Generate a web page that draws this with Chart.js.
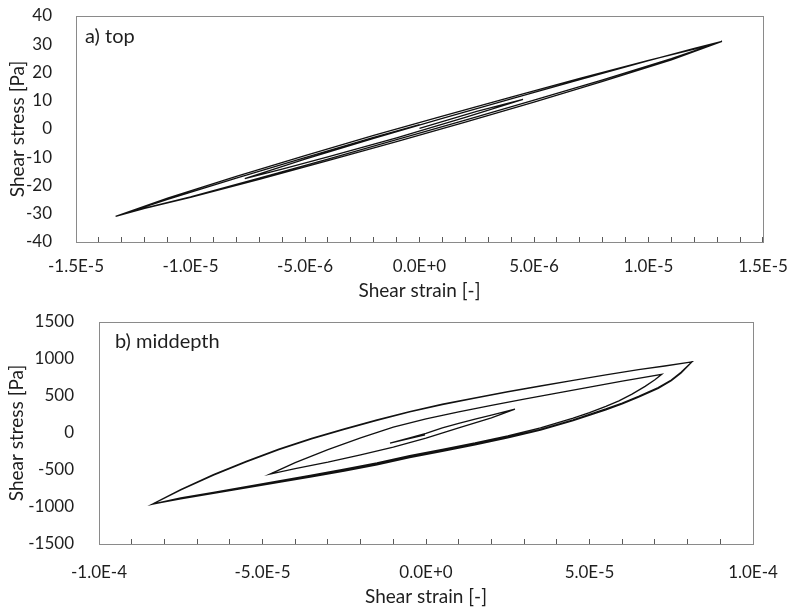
<!DOCTYPE html>
<html>
<head>
<meta charset="utf-8">
<script src="https://cdn.jsdelivr.net/npm/chart.js@4/dist/chart.umd.min.js"></script>
<style>
  body { margin: 0; background: #fff; }
  canvas { display: block; }
</style>
</head>
<body>
<canvas id="topChart" width="789" height="305"></canvas>
<canvas id="midChart" width="789" height="305"></canvas>
<script>
// a) top : one continuous stress-strain path
const topStrain = [
  0, 2.5e-6, 4.52e-6,
  2e-6, -1e-6, -4e-6, -6e-6, -7.63e-6,
  -5e-6, -2e-6, 1e-6, 4e-6, 7e-6, 10e-6, 12e-6, 13.21e-6,
  11e-6, 8e-6, 5e-6, 2e-6, -1e-6, -4e-6, -7e-6, -10e-6, -12e-6, -13.27e-6,
  -11e-6, -8e-6, -5e-6, -2e-6, 1e-6, 4e-6, 7e-6, 10e-6, 12e-6, 13.21e-6,
  11e-6, 8e-6, 5e-6, 2e-6, -1e-6, -4e-6, -7e-6, -10e-6, -12e-6, -13.27e-6,
  -11e-6, -8e-6, -5e-6, -2e-6, 0
];
const topStress = [
  0.2, 6.2, 10.5,
  4.1, -3.1, -9.9, -14.2, -17.6,
  -10.7, -3.3, 3.8, 10.7, 17.5, 24.2, 28.5, 31.0,
  24.5, 16.85, 9.55, 2.4, -4.5, -11.2, -17.8, -24.2, -28.1, -30.9,
  -24.5, -16.75, -9.45, -2.3, 4.6, 11.3, 17.9, 24.3, 28.3, 31.0,
  24.9, 17.4, 10.2, 3.1, -3.8, -10.65, -17.35, -24.0, -28.0, -30.9,
  -24.9, -17.35, -10.1, -3.0, 1.55
];

// b) middepth
const midStrain = [
  -0.3e-6, -11e-6,
  -5e-6, 0, 5e-6, 10e-6, 15e-6, 20e-6, 27.2e-6,
  20e-6, 10e-6, 0, -10e-6, -20e-6, -30e-6, -40e-6, -47.7e-6,
  -40e-6, -30e-6, -20e-6, -10e-6, 0, 10e-6, 20e-6, 30e-6, 40e-6, 50e-6, 60e-6, 72.1e-6,
  70e-6, 67e-6, 63e-6, 59e-6, 55e-6, 50e-6, 45e-6, 35e-6, 25e-6, 15e-6, 5e-6, -5e-6, -15e-6, -25e-6, -35e-6, -45e-6, -55e-6, -65e-6, -75e-6, -83.7e-6,
  -75e-6, -65e-6, -55e-6, -45e-6, -35e-6, -25e-6, -15e-6, -5e-6, 5e-6, 15e-6, 25e-6, 35e-6, 45e-6, 55e-6, 65e-6, 73e-6, 81.3e-6,
  78e-6, 75e-6, 71e-6, 65e-6, 60e-6, 55e-6, 45e-6, 35e-6, 25e-6, 15e-6, 5e-6, -5e-6, -15e-6, -25e-6, -35e-6, -45e-6, -55e-6, -65e-6, -75e-6, -83.7e-6,
  -75e-6, -65e-6, -55e-6, -45e-6, -35e-6, -25e-6, -15e-6, -5e-6, 5e-6, 15e-6, 25e-6, 35e-6, 45e-6, 55e-6, 65e-6, 73e-6, 81.3e-6,
  78e-6, 75e-6, 71e-6, 65e-6, 60e-6, 55e-6, 45e-6, 35e-6, 25e-6, 15e-6, 5e-6, -5e-6, -15e-6, -25e-6, -35e-6, -45e-6, -55e-6, -65e-6, -75e-6, -83.7e-6
];
const midStress = [
  -25, -137,
  -65, -5, 68, 130, 188, 242, 322,
  205, 70, -70, -190, -295, -395, -480, -555,
  -400, -225, -65, 80, 190, 285, 373, 458, 540, 620, 700, 794,
  720, 630, 525, 435, 360, 275, 200, 70, -38, -135, -220, -305, -405, -490, -571, -648, -725, -801, -878, -962,
  -770, -570, -390, -225, -80, 50, 170, 285, 385, 470, 555, 635, 710, 785, 855, 905, 960,
  820, 715, 615, 495, 405, 325, 178, 50, -55, -150, -235, -320, -420, -505, -585, -660, -735, -810, -885, -962,
  -765, -563, -383, -218, -73, 56, 176, 290, 389, 474, 558, 638, 712, 786, 856, 906, 960,
  812, 705, 603, 483, 393, 313, 166, 38, -67, -162, -247, -332, -430, -514, -593, -667, -741, -815, -889, -962
];

// axis ranges / ticks
const topX = { min: -1.5e-5, max: 1.5e-5, minor: 1e-6, major: 5e-6 };
const topY = { min: -40, max: 40, step: 10 };
const midX = { min: -1e-4, max: 1e-4, minor: 1e-5, major: 5e-5 };
const midY = { min: -1500, max: 1500, step: 500 };

const FONT = 'Lato';
const TXT = '#1e1e1e';

const frame = {
  id: 'frame',
  afterDraw(chart, args, opts) {
    const { ctx, chartArea: a } = chart;
    ctx.save();
    ctx.strokeStyle = '#8a8a8a';
    ctx.lineWidth = 1;
    ctx.strokeRect(Math.round(a.left) + 0.5, Math.round(a.top) + 0.5,
      Math.round(a.width), Math.round(a.height));
    ctx.fillStyle = TXT;
    ctx.font = '20px ' + FONT;
    ctx.textBaseline = 'middle';
    ctx.fillText(opts.label, a.left + opts.dx, a.top + opts.dy);
    ctx.restore();
  }
};

function makeChart(id, c) {
  const pts = c.strain.map((x, i) => ({ x: x, y: c.stress[i] }));
  return new Chart(document.getElementById(id), {
    type: 'scatter',
    data: {
      datasets: [{
        data: pts,
        showLine: true,
        borderColor: '#111',
        borderWidth: 1.3,
        pointRadius: 0,
        tension: 0
      }]
    },
    options: {
      responsive: false,
      animation: false,
      layout: { padding: c.pad },
      plugins: {
        legend: { display: false },
        tooltip: { enabled: false },
        frame: { label: c.label, dx: c.labelDx, dy: c.labelDy }
      },
      scales: {
        x: {
          type: 'linear',
          min: c.xr.min,
          max: c.xr.max,
          afterFit: s => {
            s.height = c.xh;
            s.paddingLeft = 0;
            s.paddingRight = 0;
          },
          afterBuildTicks: s => {
            const k0 = Math.round(c.xr.min / c.xr.minor);
            const k1 = Math.round(c.xr.max / c.xr.minor);
            const t = [];
            for (let k = k0; k <= k1; k++) t.push({ value: k * c.xr.minor });
            s.ticks = t;
          },
          ticks: {
            autoSkip: false,
            maxRotation: 0,
            padding: c.xpad,
            color: TXT,
            font: { family: FONT, size: 17 },
            callback: v => {
              const r = v / c.xr.major;
              if (Math.abs(r - Math.round(r)) > 1e-6) return '';
              return (Math.round(r) * c.xr.major).toExponential(1).toUpperCase();
            }
          },
          grid: { drawOnChartArea: false, drawTicks: true, tickLength: -5, color: '#595959' },
          border: { display: false },
          title: {
            display: true, text: 'Shear strain [-]', color: TXT,
            font: { family: FONT, size: 19 }, padding: { top: 0, bottom: c.xtb }
          }
        },
        y: {
          type: 'linear',
          min: c.yr.min,
          max: c.yr.max,
          afterFit: s => {
            s.width = c.yw;
            s.paddingTop = 0;
            s.paddingBottom = 0;
          },
          ticks: {
            stepSize: c.yr.step,
            padding: c.ypad,
            color: TXT,
            font: { family: FONT, size: 17 },
            callback: v => String(v)
          },
          grid: { display: false },
          border: { display: false },
          title: {
            display: true, text: 'Shear stress [Pa]', color: TXT,
            font: { family: FONT, size: 19 }, padding: { top: c.ytp, bottom: 0 }
          }
        }
      }
    },
    plugins: [frame]
  });
}

makeChart('topChart', {
  strain: topStrain, stress: topStress, xr: topX, yr: topY,
  pad: { left: 0, right: 26, top: 16, bottom: 0 },
  xh: 63, xpad: 19, xtb: 2.6, yw: 76, ypad: 16, ytp: 6.6,
  label: 'a) top', labelDx: 9, labelDy: 21
});

makeChart('midChart', {
  strain: midStrain, stress: midStress, xr: midX, yr: midY,
  pad: { left: 0, right: 36, top: 17, bottom: 0 },
  xh: 66, xpad: 23, xtb: 1.6, yw: 99, ypad: 17, ytp: 5.6,
  label: 'b) middepth', labelDx: 16, labelDy: 20
});
</script>
</body>
</html>
